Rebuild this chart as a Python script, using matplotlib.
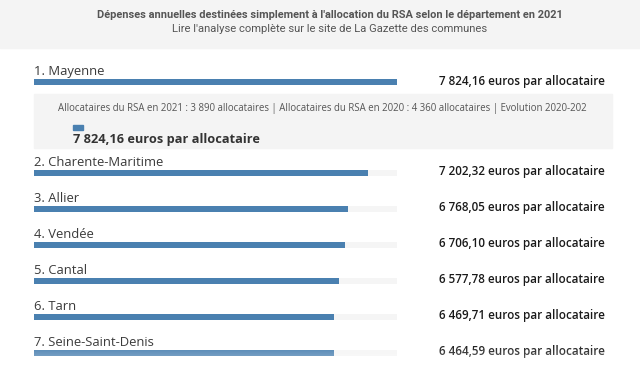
import numpy as np
import matplotlib.pyplot as plt
from matplotlib.patches import Rectangle

# ------------------------------------------
# Data
# ------------------------------------------
departements = ["1. Mayenne", "2. Charente-Maritime", "3. Allier", "4. Vendée",
                "5. Cantal", "6. Tarn", "7. Seine-Saint-Denis"]
euros = [7824.16, 7202.32, 6768.05, 6706.10, 6577.78, 6469.71, 6464.59]
euros_txt = ["7 824,16", "7 202,32", "6 768,05", "6 706,10",
             "6 577,78", "6 469,71", "6 464,59"]

titre = "Dépenses annuelles destinées simplement à l'allocation du RSA selon le département en 2021"
sous_titre = "Lire l'analyse complète sur le site de La Gazette des communes"
tooltip = ("Allocataires du RSA en 2021 : 3 890 allocataires | "
           "Allocataires du RSA en 2020 : 4 360 allocataires | Evolution 2020-202")

BLEU = "#4a80b0"
FOND = "#f4f4f4"
POLICE = "Open Sans"

W, H = 640, 384
fig = plt.figure(figsize=(W / 100, H / 100), dpi=100)

# fond / decor en pixels
bg = fig.add_axes([0, 0, 1, 1])
bg.set_xlim(0, W)
bg.set_ylim(H, 0)
bg.axis("off")

bg.add_patch(Rectangle((0, 0), W, 48, color=FOND, zorder=0))
bg.text(330, 15.5, titre, ha="center", va="center", fontsize=7.9,
        fontweight="bold", color="#555555", family="Roboto")
bg.text(330, 29, sous_titre, ha="center", va="center", fontsize=8.15,
        color="#555555", family="Roboto")

# positions des lignes (la premiere est suivie de l'infobulle)
y_bars = [82] + [173 + 36 * i for i in range(len(euros) - 1)]

# axes des barres : x en euros, y en pixels
x0, x1 = 34, 397
ax = fig.add_axes([x0 / W, 0, (x1 - x0) / W, 1])
ax.set_ylim(H, 0)
ax.set_xlim(0, max(euros))
ax.axis("off")
ax.patch.set_alpha(0)

ax.barh(y_bars, [max(euros)] * len(euros), height=6.5, color="#f5f5f5", zorder=1)
ax.barh(y_bars, euros, height=6.5, color=BLEU, zorder=2)

for y, nom, txt in zip(y_bars, departements, euros_txt):
    bg.text(x0, y - 11, nom, ha="left", va="center", fontsize=9.4,
            color="#3a3a3a", family=POLICE)
    bg.text(605, y - 1, f"{txt} euros par allocataire", ha="right", va="center",
            fontsize=8.4, color="#1a1a1a", family=POLICE, fontweight="semibold")

# infobulle sous Mayenne
bg.add_patch(Rectangle((34, 94), 578, 54, color=FOND, zorder=1))
bg.text(58, 109, tooltip, ha="left", va="center", fontsize=6.9,
        color="#555555", family=POLICE, zorder=3)
bg.add_patch(Rectangle((73, 125), 10, 4.5, color=BLEU, zorder=3))
bg.text(73, 139, f"{euros_txt[0]} euros par allocataire", ha="left", va="center",
        fontsize=9.2, fontweight="bold", color="#333333", family=POLICE, zorder=3)

# fondu blanc en bas
over = fig.add_axes([0, 0, 1, 1], zorder=10)
over.axis("off")
over.patch.set_alpha(0)
grad = np.ones((100, 2, 4))
grad[..., 3] = np.linspace(0, 1, 100)[:, None] ** 1.3
over.imshow(grad, extent=(0, W, 384, 342), aspect="auto", interpolation="bilinear")
over.set_xlim(0, W)
over.set_ylim(H, 0)

fig.savefig("out.png", dpi=100)
